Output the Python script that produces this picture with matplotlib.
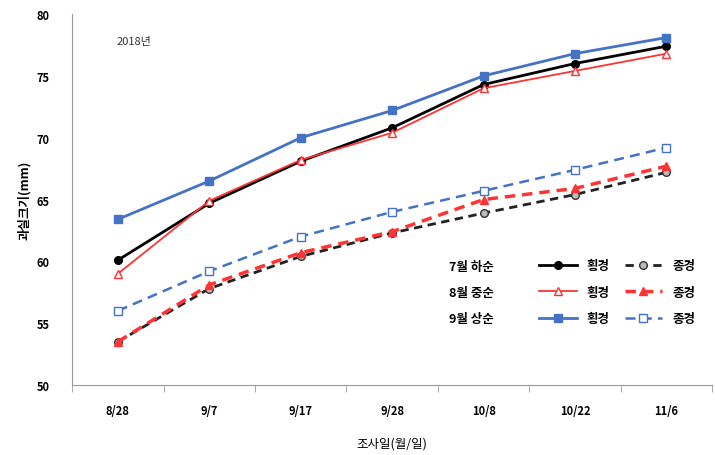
import matplotlib
matplotlib.use('Agg')
import matplotlib.pyplot as plt
from matplotlib.ticker import FixedLocator

plt.rcParams['font.family'] = ['Noto Sans CJK KR', 'DejaVu Sans']

dates = ['8/28', '9/7', '9/17', '9/28', '10/8', '10/22', '11/6']
jul_hw = [60.1, 64.7, 68.1, 70.8, 74.3, 76.0, 77.4]
jul_vt = [53.5, 57.8, 60.4, 62.3, 63.9, 65.4, 67.2]
aug_hw = [59.0, 64.9, 68.2, 70.4, 74.0, 75.4, 76.8]
aug_vt = [53.5, 58.1, 60.7, 62.4, 65.0, 65.9, 67.7]
sep_hw = [63.4, 66.5, 70.0, 72.2, 75.0, 76.8, 78.1]
sep_vt = [56.0, 59.2, 62.0, 64.0, 65.7, 67.4, 69.2]
row_labels = ['7월 하순', '8월 중순', '9월 상순']

x = list(range(len(dates)))
fig = plt.figure(figsize=(7.15, 4.56), dpi=100)
ax = fig.add_axes([0.101, 0.1535, 0.895, 0.8135])

blue = '#4472c4'
red = '#ff3333'
h1, = ax.plot(x, jul_hw, color='black', lw=2, marker='o', ms=5.5, label='횡경')
h2, = ax.plot(x, aug_hw, color=red, lw=1.3, marker='^', ms=5.5, mfc='white', mec=red, label='횡경')
h3, = ax.plot(x, sep_hw, color=blue, lw=2, marker='s', ms=5.5, label='횡경')
h4, = ax.plot(x, jul_vt, color='#222222', lw=2, ls=(0, (3, 2)), marker='o', ms=5.5, mfc='#bbbbbb', mec='#333333', label='종경')
h5, = ax.plot(x, aug_vt, color=red, lw=2.5, ls=(0, (3, 2)), marker='^', ms=5.5, label='종경')
h6, = ax.plot(x, sep_vt, color=blue, lw=1.8, ls=(0, (4, 2.5)), marker='s', ms=5.5, mfc='white', mec=blue, label='종경')

ax.set_xlim(-0.5, 6.5)
ax.set_ylim(50, 80)
ax.set_yticks([50, 55, 60, 65, 70, 75, 80])
ax.set_xticks(x)
ax.set_xticklabels(dates, fontsize=8, fontweight='bold')
ax.tick_params(axis='x', which='major', length=0, pad=14)
ax.xaxis.set_minor_locator(FixedLocator([i - 0.5 for i in range(8)]))
ax.tick_params(axis='x', which='minor', length=5, color='#999999')
ax.tick_params(axis='y', length=0, labelsize=8, pad=16)
for lab in ax.get_yticklabels():
    lab.set_fontweight('bold')
for s in ['top', 'right']:
    ax.spines[s].set_visible(False)
ax.spines['left'].set_color('#999999')
ax.spines['bottom'].set_color('#999999')

ax.set_ylabel('과실크기(mm)', fontsize=9, fontweight='bold', labelpad=4)
ax.set_xlabel('조사일(월/일)', fontsize=9, labelpad=14)
ax.text(0.07, 0.92, '2018년', transform=ax.transAxes, fontsize=8, color='#333333')

leg = ax.legend(handles=[h1, h2, h3, h4, h5, h6], ncol=2, frameon=False,
                loc='center left', bbox_to_anchor=(0.712, 0.25),
                handlelength=3.0, columnspacing=1.2, labelspacing=1.08,
                prop={'weight': 'bold', 'size': 9})
for i, t in enumerate(row_labels):
    fig.text(449 / 715, 1 - (267 + 26 * i) / 456, t, fontsize=9, fontweight='bold', va='center')

fig.savefig('out.png', dpi=100)
